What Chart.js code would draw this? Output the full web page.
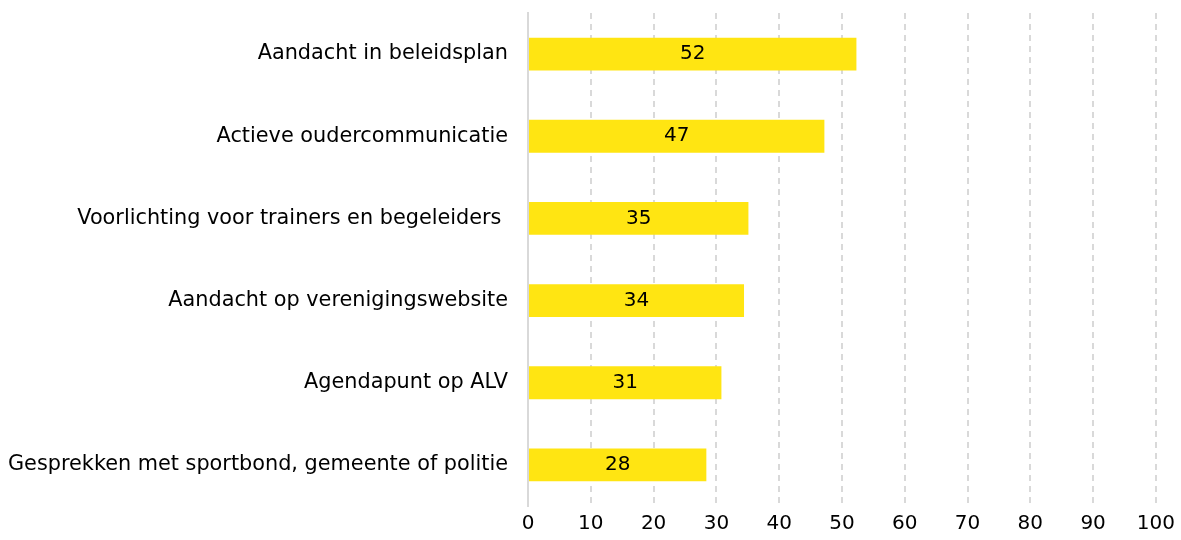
<!DOCTYPE html>
<html>
<head>
<meta charset="utf-8">
<script src="https://cdn.jsdelivr.net/npm/chart.js@4/dist/chart.umd.min.js"></script>
<style>
html,body{margin:0;padding:0;background:#fff;}
#wrap{width:1181px;height:540px;}
</style>
</head>
<body>
<div id="wrap"><canvas id="c" width="1181" height="540"></canvas></div>
<script>
const categories = [
  "Aandacht in beleidsplan",
  "Actieve oudercommunicatie",
  "Voorlichting voor trainers en begeleiders ",
  "Aandacht op verenigingswebsite",
  "Agendapunt op ALV",
  "Gesprekken met sportbond, gemeente of politie"
];
const values = [52.3, 47.2, 35.1, 34.4, 30.8, 28.4];
const valueLabels = ["52", "47", "35", "34", "31", "28"];
const xTicks = [0, 10, 20, 30, 40, 50, 60, 70, 80, 90, 100];

const FONT = "'DejaVu Sans', sans-serif";

const barLabels = {
  id: 'barLabels',
  afterDatasetsDraw(chart) {
    const ctx = chart.ctx;
    const meta = chart.getDatasetMeta(0);
    ctx.save();
    ctx.font = "20px " + FONT;
    ctx.fillStyle = "#000";
    ctx.textAlign = "center";
    ctx.textBaseline = "middle";
    meta.data.forEach((bar, i) => {
      const cx = (bar.x + bar.base) / 2;
      ctx.fillText(valueLabels[i], cx, bar.y);
    });
    ctx.restore();
  }
};

new Chart(document.getElementById('c'), {
  type: 'bar',
  data: {
    labels: categories,
    datasets: [{
      data: values,
      backgroundColor: '#FFE512',
      borderWidth: 0,
      barPercentage: 0.4,
      categoryPercentage: 1.0
    }]
  },
  options: {
    indexAxis: 'y',
    responsive: false,
    animation: false,
    layout: { padding: { top: 13, right: 7, left: -12, bottom: -2 } },
    plugins: { legend: { display: false }, tooltip: { enabled: false } },
    scales: {
      x: {
        min: 0, max: 100,
        afterBuildTicks(scale) { scale.ticks = xTicks.map(v => ({ value: v })); },
        grid: {
          color: '#d9d9d9', lineWidth: 2, drawTicks: false,
          tickLength: 0
        },
        border: { display: false, dash: [6, 5] },
        ticks: { color: '#000', font: { family: FONT, size: 20 }, padding: 6 }
      },
      y: {
        afterFit(scale) { scale.paddingTop = 0; scale.paddingBottom = 0; },
        grid: { display: false, drawTicks: false },
        border: { display: true, color: '#d9d9d9', width: 2 },
        ticks: { color: '#000', font: { family: FONT, size: 20.8 }, padding: 20 }
      }
    }
  },
  plugins: [barLabels]
});
</script>
</body>
</html>
